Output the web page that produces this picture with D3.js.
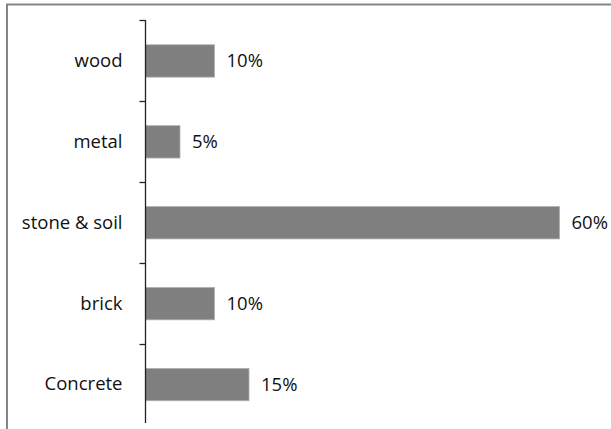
<!DOCTYPE html>
<html>
<head>
<meta charset="utf-8">
<script src="https://cdn.jsdelivr.net/npm/d3@7"></script>
<style>
  body { margin: 0; background: #fff; }
  text { font-family: "Open Sans", sans-serif; fill: #111; }
</style>
</head>
<body>
<div class="chart"></div>
<script>
var categories = ["wood", "metal", "stone & soil", "brick", "Concrete"];
var values = [10, 5, 60, 10, 15];
var valueLabels = ["10%", "5%", "60%", "10%", "15%"];

var svgWidth = 611;
var svgHeight = 429;

var svg = d3.select(".chart")
  .append("svg")
  .attr("width", svgWidth)
  .attr("height", svgHeight);

// chart frame (cropped at right and bottom)
svg.append("path")
  .attr("d", "M7,429 V4.5 H611")
  .attr("fill", "none")
  .attr("stroke", "#858585")
  .attr("stroke-width", 2);

var axisX = 145.5;

var yScale = d3.scaleBand()
  .domain(categories)
  .range([20.5, 425])
  .paddingInner(0.6)
  .paddingOuter(0.3);

var xScale = d3.scaleLinear()
  .domain([0, 60])
  .range([axisX, axisX + 414]);

var data = categories.map(function(c, i) {
  return { cat: c, value: values[i], label: valueLabels[i] };
});

// bars
svg.selectAll("rect.bar")
  .data(data)
  .enter()
  .append("rect")
  .attr("class", "bar")
  .attr("x", xScale(0))
  .attr("y", d => yScale(d.cat))
  .attr("width", d => xScale(d.value) - xScale(0))
  .attr("height", yScale.bandwidth())
  .attr("fill", "#7f7f7f")
  .attr("stroke", "#b0b0b0")
  .attr("stroke-width", 0.8);

// y axis with category labels
var leftAxis = d3.axisLeft(yScale).tickSize(0).tickPadding(23);
var yAxis = svg.append("g")
  .attr("transform", `translate(${axisX}, 0)`)
  .call(leftAxis);

yAxis.select(".domain")
  .attr("stroke", "#222")
  .attr("stroke-width", 1.3)
  .attr("d", `M0,${20} V423`);

yAxis.selectAll("text")
  .attr("font-size", 18.5)
  .style("font-family", "'Open Sans', sans-serif")
  .attr("fill", "#111");

// separator ticks between categories
var step = yScale.step();
var boundaries = categories.map(c => yScale(c) - step * yScale.paddingInner() / 2);
yAxis.selectAll("line.sep")
  .data(boundaries)
  .enter()
  .append("line")
  .attr("class", "sep")
  .attr("x1", -6)
  .attr("x2", 0)
  .attr("y1", d => Math.round(d) + 0.5)
  .attr("y2", d => Math.round(d) + 0.5)
  .attr("stroke", "#222")
  .attr("stroke-width", 1.3);

// value labels
svg.selectAll("text.value")
  .data(data)
  .enter()
  .append("text")
  .attr("class", "value")
  .attr("x", d => xScale(d.value) + 12)
  .attr("y", d => yScale(d.cat) + yScale.bandwidth() / 2)
  .attr("dy", "0.35em")
  .attr("font-size", 18.5)
  .text(d => d.label);
</script>
</body>
</html>
